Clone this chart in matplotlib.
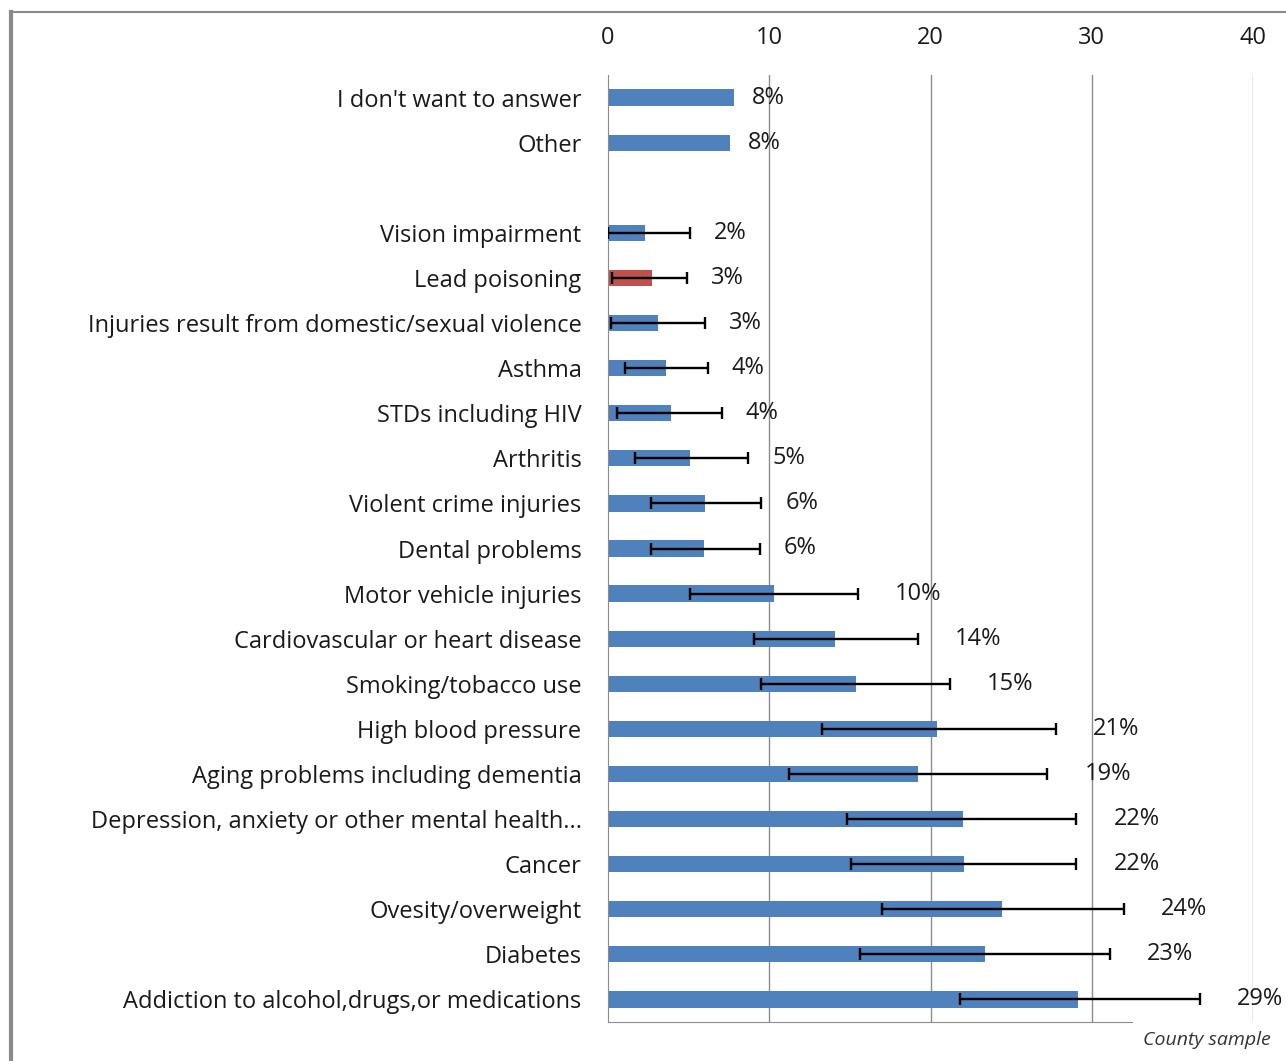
from matplotlib import pyplot as plt
from matplotlib.lines import Line2D
import numpy as np

# -------- data ----------#
categories = [
    "I don't want to answer",
    "Other",
    "",
    "Vision impairment",
    "Lead poisoning",
    "Injuries result from domestic/sexual violence",
    "Asthma",
    "STDs including HIV",
    "Arthritis",
    "Violent crime injuries",
    "Dental problems",
    "Motor vehicle injuries",
    "Cardiovascular or heart disease",
    "Smoking/tobacco use",
    "High blood pressure",
    "Aging problems including dementia",
    "Depression, anxiety or other mental health...",
    "Cancer",
    "Ovesity/overweight",
    "Diabetes",
    "Addiction to alcohol,drugs,or medications",
]
values = [7.8, 7.55, np.nan, 2.3, 2.7, 3.1, 3.6, 3.9, 5.1, 6.0, 5.95,
          10.3, 14.1, 15.4, 20.4, 19.25, 22.0, 22.1, 24.45, 23.4, 29.15]
err_low = [np.nan, np.nan, np.nan, 0.0, 0.25, 0.2, 1.05, 0.55, 1.7, 2.65, 2.65,
           5.1, 9.05, 9.5, 13.25, 11.2, 14.85, 15.1, 17.0, 15.6, 21.8]
err_high = [np.nan, np.nan, np.nan, 5.1, 4.9, 6.0, 6.2, 7.05, 8.7, 9.5, 9.4,
            15.5, 19.2, 21.2, 27.8, 27.25, 29.05, 29.05, 32.0, 31.15, 36.7]
labels = ["8%", "8%", "", "2%", "3%", "3%", "4%", "4%", "5%", "6%", "6%",
          "10%", "14%", "15%", "21%", "19%", "22%", "22%", "24%", "23%", "29%"]
highlight = "Lead poisoning"
# -------- data end ----------#

plt.rcParams['font.family'] = ['Open Sans', 'DejaVu Sans']

blue = "#4F81BD"
red = "#C0504D"
grid_c = "#8c8c8c"
txt_c = "#1a1a1a"

fig = plt.figure(figsize=(12.86, 10.61), dpi=100)
ax = fig.add_axes([608/1286, 1 - 1022/1061, (1253 - 608)/1286, (1022 - 75)/1061])

y = np.arange(len(categories))
vals = np.array(values)
lo = np.array(err_low)
hi = np.array(err_high)
colors = [red if c == highlight else blue for c in categories]

ax.barh(y, np.nan_to_num(vals), height=0.36, color=colors, zorder=2)

has_err = ~np.isnan(lo)
ye = y[has_err]
ve = vals[has_err]
ax.errorbar(ve, ye, xerr=[ve - lo[has_err], hi[has_err] - ve], fmt="none",
            ecolor="black", elinewidth=1.7, capsize=4.5, capthick=1.7, zorder=3)

for i in range(len(categories)):
    if labels[i] == "":
        continue
    if np.isnan(hi[i]):
        end, off = vals[i], 18
    else:
        end, off = hi[i], (24 if len(labels[i]) == 2 else 37)
    ax.annotate(labels[i], (end, y[i]), xytext=(off, 0), textcoords="offset pixels",
                ha="left", va="center", fontsize=17, color=txt_c, zorder=4)

ax.set_xlim(0, 40)
ax.set_ylim(len(categories) - 0.5, -0.5)
ax.set_yticks(y)
ax.set_yticklabels(categories, fontsize=17, color=txt_c)
ax.tick_params(axis="y", length=0, pad=19)
ax.xaxis.tick_top()
ax.set_xticks([0, 10, 20, 30, 40])
ax.tick_params(axis="x", length=0, pad=18, labelsize=17, labelcolor=txt_c)

for xv in [10, 20, 30, 40]:
    ax.axvline(xv, color=grid_c, lw=1, zorder=1)

for s in ["top", "right"]:
    ax.spines[s].set_visible(False)
ax.spines["left"].set_color(grid_c)
ax.spines["bottom"].set_color(grid_c)
ax.spines["bottom"].set_bounds(0, 32.5)

fig.text(1207/1286, 1 - 1040/1061, "County sample", ha="center", va="center",
         fontsize=14, style="italic", color="#333333")

# frame lines of the original picture
fig.add_artist(Line2D([11/1286, 11/1286], [0, 1 - 12/1061], color="#8a8a8a", lw=3,
                      transform=fig.transFigure))
fig.add_artist(Line2D([10/1286, 1], [1 - 12/1061, 1 - 12/1061], color="#8a8a8a", lw=1.5,
                      transform=fig.transFigure))

plt.savefig("out.png")
